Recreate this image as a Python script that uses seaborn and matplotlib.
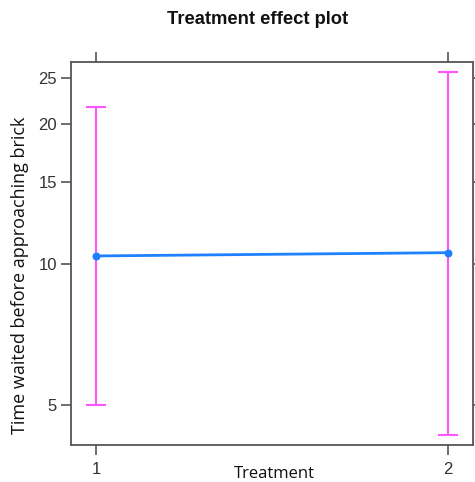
import matplotlib
matplotlib.use("Agg")
import matplotlib.pyplot as plt
import seaborn as sns
import pandas as pd
from matplotlib.ticker import FixedLocator, FixedFormatter, NullLocator

treatment = [1, 2]
fit = [10.42, 10.59]
lower = [4.99, 4.31]
upper = [21.7, 25.8]
yticks = [5, 10, 15, 20, 25]
ytick_labels = ["5", "10", "15", "20", "25"]
xtick_labels = ["1", "2"]

df = pd.DataFrame({"Treatment": treatment, "fit": fit, "lower": lower, "upper": upper})

sns.set_style("white")
plt.rcParams["font.family"] = ["Liberation Sans", "DejaVu Sans"]

fig = plt.figure(figsize=(4.75, 4.82), dpi=100)
ax = fig.add_axes([71/475, 37/482, 402/475, 383/482])

# error bars
ax.errorbar(df["Treatment"], df["fit"],
            yerr=[df["fit"] - df["lower"], df["upper"] - df["fit"]],
            fmt="none", ecolor="#FF55FF", elinewidth=1.5, capsize=7, capthick=1.5, zorder=2)

sns.lineplot(data=df, x="Treatment", y="fit", ax=ax, color="#1E80FF", linewidth=2,
             marker="o", markersize=5, markeredgecolor="#1E80FF", zorder=3)

ax.set_yscale("log")
ax.set_ylim(4.106, 27.09)
ax.set_xlim(0.929, 2.071)
ax.yaxis.set_major_locator(FixedLocator(yticks))
ax.yaxis.set_major_formatter(FixedFormatter(ytick_labels))
ax.yaxis.set_minor_locator(NullLocator())
ax.set_xticks(treatment)
ax.set_xticklabels(xtick_labels)

frame_col = "#555555"
for s in ax.spines.values():
    s.set_color(frame_col)
    s.set_linewidth(1.3)
ax.tick_params(axis="both", which="major", direction="out", length=7, width=1.2,
               color=frame_col, labelcolor="#333333", labelsize=12,
               top=True, right=True, left=True, bottom=True,
               labeltop=False, labelright=False)
ax.tick_params(axis="x", pad=5)
ax.tick_params(axis="y", pad=3)

ax.set_xlabel("")
ax.set_ylabel("")
fig.text(274/475, 1 - 474/482, "Treatment", ha="center", va="center",
         fontsize=12, color="#111111", family=["Open Sans", "DejaVu Sans"])
fig.text(20/475, 1 - 275/482, "Time waited before approaching brick", ha="center",
         va="center", rotation=90, fontsize=13, color="#111111",
         family=["Open Sans", "DejaVu Sans"])
fig.text(258/475, 1 - 20/482, "Treatment effect plot", ha="center", va="center",
         fontsize=13.2, fontweight="bold", color="#111111")

fig.savefig("out.png", dpi=100)
